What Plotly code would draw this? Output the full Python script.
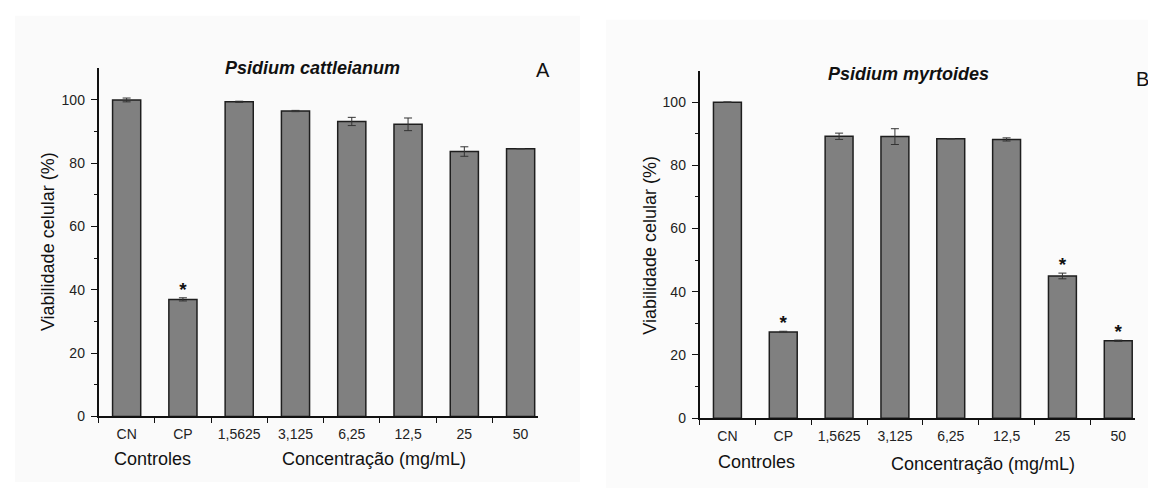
import plotly.graph_objects as go

W, H = 1156, 488

categories = ["CN", "CP", "1,5625", "3,125", "6,25", "12,5", "25", "50"]

# Panel A: Psidium cattleianum
cat_values = [100.0, 37.0, 99.4, 96.5, 93.2, 92.3, 83.7, 84.6]
cat_errors = [0.6, 0.5, 0.2, 0.2, 1.3, 2.0, 1.5, 0.0]
cat_signif = [False, True, False, False, False, False, False, False]

# Panel B: Psidium myrtoides
myr_values = [100.0, 27.3, 89.2, 89.1, 88.4, 88.2, 45.0, 24.5]
myr_errors = [0.0, 0.2, 1.0, 2.5, 0.0, 0.5, 0.9, 0.2]
myr_signif = [False, True, False, False, False, False, True, True]

titles = ["Psidium cattleianum", "Psidium myrtoides"]
letters = ["A", "B"]
ytitle = "Viabilidade celular (%)"
group_labels = ["Controles", "Concentração (mg/mL)"]

FONT = "Liberation Sans, Arial, sans-serif"
BAR_FILL = "#808080"
BAR_LINE = "#1e1e1e"


def px_x(x):
    return x / W


def px_y(y):
    return 1 - y / H


fig = go.Figure()

xs = list(range(len(categories)))
panels = [
    dict(vals=cat_values, errs=cat_errors, sig=cat_signif, xa="x", ya="y"),
    dict(vals=myr_values, errs=myr_errors, sig=myr_signif, xa="x2", ya="y2"),
]

for p in panels:
    fig.add_trace(go.Bar(
        x=xs, y=p["vals"], width=0.5,
        marker=dict(color=BAR_FILL, line=dict(color=BAR_LINE, width=1.5)),
        error_y=dict(type="data", array=p["errs"], visible=True,
                     color="#333333", thickness=1, width=4),
        xaxis=p["xa"], yaxis=p["ya"], showlegend=False, hoverinfo="skip",
    ))
    sx = [x for x, s in zip(xs, p["sig"]) if s]
    sy = [v + e + 2.2 for v, e, s in zip(p["vals"], p["errs"], p["sig"]) if s]
    fig.add_trace(go.Scatter(
        x=sx, y=sy, mode="text", text=["<b>*</b>"] * len(sx),
        textposition="middle center",
        textfont=dict(family=FONT, size=19, color="#111111"),
        xaxis=p["xa"], yaxis=p["ya"], showlegend=False, hoverinfo="skip",
    ))

boundaries = [i - 0.5 for i in range(len(categories))]

xcommon = dict(
    range=[-0.5, 7.3], tickmode="array", tickvals=xs, ticktext=categories,
    showline=True, linecolor="#111111", linewidth=1.5, ticks="",
    tickfont=dict(family=FONT, size=14, color="#222222"),
    showgrid=False, zeroline=False, fixedrange=True,
    minor=dict(tickmode="array", tickvals=boundaries, ticks="outside",
               ticklen=5, tickwidth=1, tickcolor="#111111", showgrid=False),
    ticklabelstandoff=4,
)
ycommon = dict(
    range=[0, 110], tickmode="array", tickvals=[0, 20, 40, 60, 80, 100],
    showline=True, linecolor="#111111", linewidth=1.5,
    ticks="outside", ticklen=6, tickwidth=1, tickcolor="#111111",
    tickfont=dict(family=FONT, size=14, color="#222222"),
    showgrid=False, zeroline=False, fixedrange=True,
    minor=dict(tickmode="array", tickvals=[10, 30, 50, 70, 90], ticks="outside",
               ticklen=3, tickwidth=1, tickcolor="#111111", showgrid=False),
    ticklabelstandoff=3,
)

fig.update_layout(
    width=W, height=H,
    margin=dict(l=0, r=0, t=0, b=0),
    paper_bgcolor="white", plot_bgcolor="rgba(0,0,0,0)",
    font=dict(family=FONT, color="#111111"),
    xaxis=dict(domain=[px_x(90.5), px_x(529.5)], anchor="y", **xcommon),
    yaxis=dict(domain=[px_y(415.3), px_y(61.3)], anchor="x", **ycommon),
    xaxis2=dict(domain=[px_x(691.5), px_x(1127)], anchor="y2", **xcommon),
    yaxis2=dict(domain=[px_y(417), px_y(63.6)], anchor="x2", **ycommon),
)

# panel backgrounds
fig.add_shape(type="rect", xref="paper", yref="paper", layer="below",
              x0=px_x(7), x1=px_x(572), y0=px_y(482), y1=px_y(8),
              fillcolor="#fafafa", line=dict(width=0))
fig.add_shape(type="rect", xref="paper", yref="paper", layer="below",
              x0=px_x(598), x1=px_x(1156), y0=px_y(488), y1=px_y(12),
              fillcolor="#fbfbfb", line=dict(width=0))

ann = []


def add_text(text, x, y, size, angle=0):
    ann.append(dict(text=text, x=px_x(x), y=px_y(y), xref="paper", yref="paper",
                    xanchor="center", yanchor="middle", showarrow=False,
                    textangle=angle, font=dict(family=FONT, size=size, color="#111111")))


add_text("<b><i>%s</i></b>" % titles[0], 304.7, 60.7, 18)
add_text(letters[0], 535.3, 63.3, 20)
add_text("<b><i>%s</i></b>" % titles[1], 900, 66.7, 18)
add_text(letters[1], 1134.5, 72.3, 20)
add_text(ytitle, 40, 238, 18, -90)
add_text(ytitle, 641.7, 241, 18, -90)
add_text(group_labels[0], 144.5, 458.3, 18)
add_text(group_labels[1], 366, 458.3, 18)
add_text(group_labels[0], 748, 461.7, 18)
add_text(group_labels[1], 974.5, 463.3, 18)

fig.update_layout(annotations=ann)

fig.write_html("out.html")
